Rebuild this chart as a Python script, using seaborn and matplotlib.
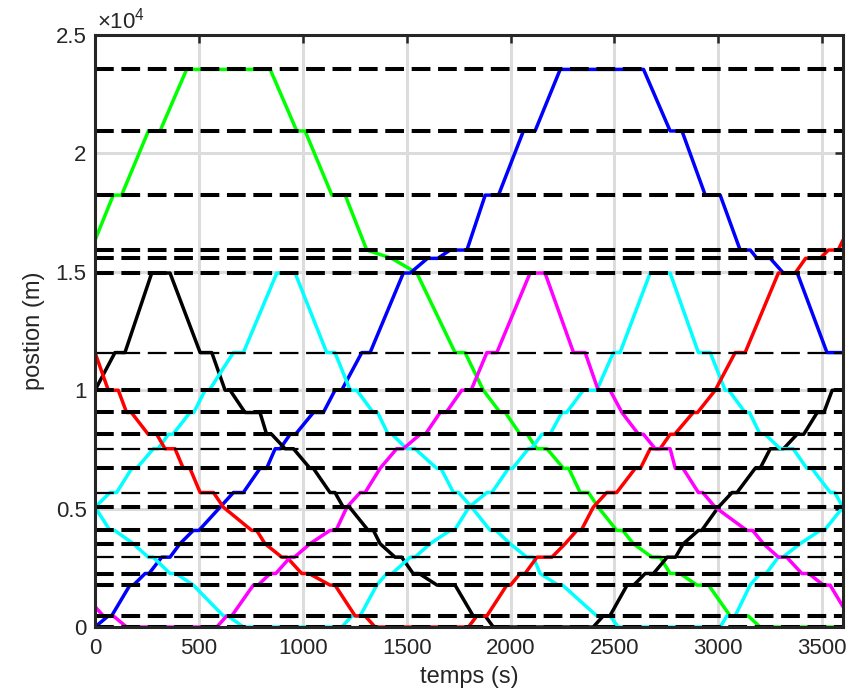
import matplotlib
matplotlib.use("Agg")
import matplotlib.pyplot as plt
import numpy as np
import pandas as pd
import seaborn as sns

# Station positions along the line (m); a few are drawn with a lighter dash
stations = [0, 470, 1770, 2260, 2950, 3520, 4080, 5060, 5680, 6700, 7530,
            8140, 9060, 10000, 11590, 14950, 15570, 15920, 18240, 20950, 23550]
thin_stations = [2950, 5680, 7530, 11590]

# Train trajectories: time (s) and position (m) at each arrival / departure
green_t = [0, 88, 128, 257, 313, 441, 843, 971, 1011, 1140, 1204, 1308, 1428,
           1549, 1733, 1781, 1869, 1950, 1975, 2046, 2080, 2126, 2175, 2255,
           2280, 2335, 2375, 2422, 2511, 2540, 2591, 2680, 2720, 2768, 2816,
           2897, 2953, 3057, 3144, 3201, 3600]
green_pos = [16340, 18240, 18240, 20950, 20950, 23550, 23550, 20950, 20950,
             18240, 18240, 15920, 15570, 14950, 11590, 11590, 10000, 9060, 9060,
             8140, 8140, 7530, 7530, 6700, 6700, 5680, 5680, 5060, 4080, 4080,
             3520, 2950, 2950, 2260, 2260, 1770, 1770, 470, 470, 0, 0]

blue_t = [0, 64, 80, 168, 185, 241, 260, 321, 361, 409, 473, 500, 602, 666,
          714, 794, 826, 867, 891, 939, 965, 1051, 1099, 1155, 1187, 1284,
          1324, 1484, 1517, 1600, 1650, 1709, 1790, 1878, 1942, 2062, 2118,
          2239, 2640, 2768, 2825, 2937, 3009, 3105, 3154, 3186, 3250, 3313,
          3380, 3523, 3600]
blue_pos = [0, 470, 470, 1770, 1770, 2260, 2260, 2950, 2950, 3520, 4080, 4080,
            5060, 5680, 5680, 6700, 6700, 7530, 7530, 8140, 8140, 9060, 9060,
            10000, 10000, 11590, 11590, 14950, 14950, 15570, 15570, 15920,
            15920, 18240, 18240, 20950, 20950, 23550, 23550, 20950, 20950,
            18240, 18240, 15920, 15920, 15570, 15570, 14950, 14950, 11590, 11590]

black_t = [0, 96, 144, 273, 361, 506, 562, 626, 650, 722, 794, 826, 850, 915,
           955, 1035, 1051, 1131, 1155, 1195, 1225, 1315, 1340, 1372, 1444,
           1476, 1531, 1560, 1646, 1733, 1820, 1878, 1917, 2398, 2446, 2478,
           2561, 2593, 2648, 2688, 2754, 2794, 2832, 2904, 2920, 3000, 3066,
           3090, 3177, 3201, 3250, 3314, 3379, 3411, 3476, 3508, 3548, 3600]
black_pos = [10000, 11590, 11590, 14950, 14950, 11590, 11590, 10000, 10000,
             9060, 9060, 8140, 8140, 7530, 7530, 6700, 6700, 5680, 5680, 5060,
             5060, 4080, 4080, 3520, 2950, 2950, 2260, 2260, 1770, 1770, 470,
             470, 0, 0, 470, 470, 1770, 1770, 2260, 2260, 2950, 2950, 3520,
             4080, 4080, 5060, 5680, 5680, 6700, 6700, 7530, 7530, 8140, 8140,
             9060, 9060, 10000, 10000]

red_t = [0, 64, 112, 152, 175, 256, 297, 337, 385, 425, 457, 506, 570, 618,
         754, 778, 818, 899, 923, 995, 1030, 1131, 1155, 1252, 1300, 1348,
         1797, 1838, 1886, 1982, 2000, 2046, 2070, 2127, 2199, 2263, 2319,
         2340, 2398, 2463, 2511, 2600, 2625, 2672, 2720, 2768, 2790, 2879,
         2900, 2985, 3081, 3129, 3289, 3370, 3420, 3490, 3530, 3577, 3600]
red_pos = [11590, 10000, 10000, 9060, 9060, 8140, 8140, 7530, 7530, 6700,
           6700, 5680, 5680, 5060, 4080, 4080, 3520, 2950, 2950, 2260, 2260,
           1770, 1770, 470, 470, 0, 0, 470, 470, 1770, 1770, 2260, 2260, 2950,
           2950, 3520, 4080, 4080, 5060, 5680, 5680, 6700, 6700, 7530, 7530,
           8140, 8140, 9060, 9060, 10000, 11590, 11590, 14950, 14950, 15570,
           15570, 15920, 15920, 16340]

magenta_t = [0, 40, 88, 152, 586, 634, 658, 762, 785, 843, 870, 940, 960,
             1035, 1131, 1160, 1212, 1276, 1300, 1372, 1452, 1484, 1565, 1590,
             1661, 1690, 1765, 1810, 1886, 1934, 2094, 2166, 2303, 2359, 2422,
             2479, 2536, 2616, 2640, 2696, 2768, 2793, 2830, 2904, 2925, 2985,
             3137, 3165, 3217, 3289, 3329, 3402, 3435, 3506, 3538, 3600]
magenta_pos = [860, 470, 470, 0, 0, 470, 470, 1770, 1770, 2260, 2260, 2950,
               2950, 3520, 4080, 4080, 5060, 5680, 5680, 6700, 7530, 7530,
               8140, 8140, 9060, 9060, 10000, 10000, 11590, 11590, 14950,
               14950, 11590, 11590, 10000, 10000, 9060, 8140, 8140, 7530, 7530,
               6700, 6700, 5680, 5680, 5060, 4080, 4080, 3520, 2950, 2950,
               2260, 2260, 1770, 1770, 860]

cyan_a_t = [0, 72, 104, 177, 200, 281, 304, 353, 375, 457, 475, 530, 550, 666,
            714, 875, 963, 1115, 1155, 1228, 1260, 1339, 1360, 1411, 1430,
            1500, 1540, 1645, 1665, 1725, 1750, 1813, 1902, 1930, 1998, 2078,
            2110, 2142, 2229, 2250, 2415, 2479, 2518, 3009, 3041, 3081, 3153,
            3201, 3230, 3289, 3310, 3394, 3490, 3510, 3600]
cyan_a_pos = [5060, 5680, 5680, 6700, 6700, 7530, 7530, 8140, 8140, 9060,
              9060, 10000, 10000, 11590, 11590, 14950, 14950, 11590, 11590,
              10000, 10000, 9060, 9060, 8140, 8140, 7530, 7530, 6700, 6700,
              5680, 5680, 5060, 4080, 4080, 3520, 2950, 2950, 2260, 1770, 1770,
              470, 470, 0, 0, 470, 470, 1770, 2260, 2260, 2950, 2950, 3520,
              4080, 4080, 5060]

cyan_b_t = [0, 72, 95, 184, 256, 280, 361, 390, 473, 618, 640, 714, 1188,
            1236, 1276, 1356, 1404, 1430, 1517, 1540, 1613, 1709, 1730, 1800,
            1886, 1910, 1990, 2010, 2086, 2100, 2151, 2190, 2247, 2270, 2350,
            2415, 2495, 2527, 2672, 2768, 2904, 2961, 3033, 3050, 3129, 3150,
            3201, 3225, 3298, 3360, 3426, 3450, 3539, 3560, 3600]
cyan_b_pos = [5060, 4080, 4080, 3520, 2950, 2950, 2260, 2260, 1770, 470, 470,
              0, 0, 470, 470, 1770, 2260, 2260, 2950, 2950, 3520, 4080, 4080,
              5060, 5680, 5680, 6700, 6700, 7530, 7530, 8140, 8140, 9060, 9060,
              10000, 10000, 11590, 11590, 14950, 14950, 11590, 11590, 10000,
              10000, 9060, 9060, 8140, 8140, 7530, 7530, 6700, 6700, 5680,
              5680, 5060]

trains = ["green", "blue", "black", "cyan A", "cyan B", "red", "magenta"]
train_colors = {"green": "#00ff00", "blue": "#0000ff", "black": "#000000",
                "cyan A": "#00ffff", "cyan B": "#00ffff",
                "red": "#ff0000", "magenta": "#ff00ff"}
series = {"green": (green_t, green_pos), "blue": (blue_t, blue_pos),
          "black": (black_t, black_pos), "cyan A": (cyan_a_t, cyan_a_pos),
          "cyan B": (cyan_b_t, cyan_b_pos), "red": (red_t, red_pos),
          "magenta": (magenta_t, magenta_pos)}

x_ticks = [0, 500, 1000, 1500, 2000, 2500, 3000, 3500]
y_ticks = [0, 5000, 10000, 15000, 20000, 25000]
y_tick_labels = ["0", "0.5", "1", "1.5", "2", "2.5"]

frames = []
for name in trains:
    t, p = series[name]
    frames.append(pd.DataFrame({"temps": t, "position": p, "train": name}))
df = pd.concat(frames, ignore_index=True)

sns.set_style("white")
plt.rcParams["font.family"] = ["Liberation Sans", "DejaVu Sans"]
plt.rcParams["mathtext.default"] = "regular"
plt.rcParams["lines.scale_dashes"] = False

text_color = "#262626"
fig = plt.figure(figsize=(8.56, 6.94), dpi=100)
ax = fig.add_axes([0.1110, 0.0965, 0.8738, 0.8530])

sns.lineplot(data=df, x="temps", y="position", hue="train", hue_order=trains,
             palette=train_colors, estimator=None, sort=False, legend=False,
             linewidth=2.5, ax=ax, zorder=2)

# Station lines drawn over the trajectories
for s in stations:
    lw = 1.6 if s in thin_stations else 2.9
    ax.axhline(s, color="black", linewidth=lw, linestyle=(0, (13.5, 5.5)),
               zorder=3)

ax.set_xlim(0, 3600)
ax.set_ylim(0, 25000)
ax.set_xticks(x_ticks)
ax.set_yticks(y_ticks)
ax.set_yticklabels(y_tick_labels)
ax.grid(True, color="#dcdcdc", linewidth=2.2)
ax.set_axisbelow(True)
ax.tick_params(direction="in", top=True, right=True, length=6, width=1.8,
               labelsize=16, labelcolor=text_color, color=text_color)
ax.tick_params(axis="x", pad=8)
ax.tick_params(axis="y", pad=6)
for sp in ax.spines.values():
    sp.set_color(text_color)
    sp.set_linewidth(2.2)
    sp.set_zorder(4)

ax.set_xlabel("temps (s)", fontsize=17, color=text_color, labelpad=5)
ax.set_ylabel("postion (m)", fontsize=17, color=text_color, labelpad=8)
ax.text(0.002, 1.002, r"$\times10^{4}$", transform=ax.transAxes,
        ha="left", va="bottom", fontsize=16, color=text_color)

fig.savefig("out.png", dpi=100)
